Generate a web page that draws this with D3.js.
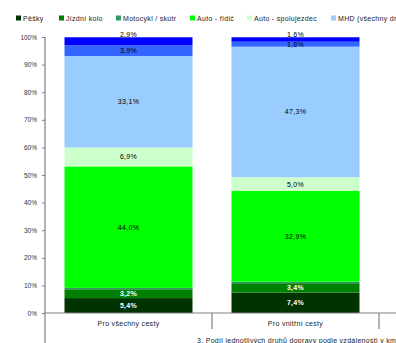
<!DOCTYPE html>
<html>
<head>
<meta charset="utf-8">
<script src="https://cdn.jsdelivr.net/npm/d3@7"></script>
<style>
  body { margin: 0; background: #fff; }
  svg { display: block; font-family: "Liberation Sans", Arial, sans-serif; }
</style>
</head>
<body>
<script>
// Categories (bars) and modes (stack segments, bottom to top)
const categories = ["Pro všechny cesty", "Pro vnitřní cesty"];
const modes = ["Pěšky", "Jízdní kolo", "Motocykl / skútr", "Auto - řidič",
               "Auto - spolujezdec", "MHD (všechny druhy)", "Vlak", "Jiné"];
const legendModes = ["Pěšky", "Jízdní kolo", "Motocykl / skútr", "Auto - řidič",
                     "Auto - spolujezdec", "MHD (všechny dr"];
const allTrips = [5.4, 3.2, 0.5, 44.0, 6.9, 33.1, 3.9, 2.9];
const innerTrips = [7.4, 3.4, 0.5, 32.9, 5.0, 47.3, 1.8, 1.6];
const yTicks = [0, 10, 20, 30, 40, 50, 60, 70, 80, 90, 100];
const colors = ["#003300", "#008000", "#339966", "#00ff00",
                "#ccffcc", "#99ccff", "#3366ff", "#0000ff"];
const footnote = "3. Podíl jednotlivých druhů dopravy podle vzdálenosti v km";

const W = 396, H = 343;
const svg = d3.select("body").append("svg").attr("width", W).attr("height", H);

// Scales: third (cut-off) category keeps band width
const x = d3.scaleBand().domain([...categories, "_"]).range([45, 546]).paddingInner(0).paddingOuter(0);
const y = d3.scaleLinear().domain([0, 100]).range([313, 37]);
const color = d3.scaleOrdinal().domain(modes).range(colors);

const series = [allTrips, innerTrips];
const barW = 128;

// Stacked bars
series.forEach(function(vals, ci) {
  let cum = 0;
  const cx = x(categories[ci]) + x.bandwidth() / 2;
  const g = svg.append("g");
  vals.forEach(function(v, i) {
    const y0 = y(cum), y1 = y(cum + v);
    g.append("rect")
      .attr("x", cx - barW / 2).attr("width", barW)
      .attr("y", y1).attr("height", y0 - y1)
      .attr("fill", color(modes[i]));
    let ly = (y0 + y1) / 2;
    if (v < 1) ly -= 7;
    if (i === vals.length - 1) ly = y1 - 3;
    g.append("text")
      .attr("x", cx).attr("y", ly).attr("dy", "0.35em")
      .attr("text-anchor", "middle")
      .attr("font-size", "7px")
      .attr("letter-spacing", "0.3px")
      .attr("fill", i < 2 ? "#ffffff" : "#000000")
      .attr("font-weight", i < 2 ? "bold" : "normal")
      .text(d3.format(".1f")(v).replace(".", ",") + "%");
    cum += v;
  });
});

// Y axis
const yAxis = svg.append("g").attr("transform", "translate(45,0)")
  .call(d3.axisLeft(y).tickValues(yTicks).tickSize(3).tickFormat(d => d + "%"));
yAxis.select(".domain").remove();
yAxis.selectAll("line").attr("stroke", "#808080");
yAxis.selectAll("text").attr("font-size", "6.5px").attr("fill", "#333").attr("x", -8)
  .attr("font-family", "Liberation Sans, Arial, sans-serif");
svg.append("line").attr("x1", 45).attr("x2", 45).attr("y1", 37).attr("y2", H)
  .attr("stroke", "#808080").attr("stroke-width", 1.2);

// X axis
svg.append("line").attr("x1", 44).attr("x2", W).attr("y1", y(0)).attr("y2", y(0))
  .attr("stroke", "#808080").attr("stroke-width", 1.2);
[categories[1], "_"].forEach(function(c) {
  svg.append("line").attr("x1", x(c)).attr("x2", x(c)).attr("y1", y(0)).attr("y2", 329)
    .attr("stroke", "#808080").attr("stroke-width", 1.2);
});
categories.forEach(function(c) {
  svg.append("text")
    .attr("x", x(c) + x.bandwidth() / 2).attr("y", 326)
    .attr("text-anchor", "middle").attr("font-size", "7px")
    .attr("letter-spacing", "0.3px").attr("fill", "#222")
    .text(c);
});

// Legend
const legendX = [16, 59, 116, 190, 247, 331];
legendModes.forEach(function(m, i) {
  svg.append("rect").attr("x", legendX[i]).attr("y", 15.5).attr("width", 5).attr("height", 5)
    .attr("fill", colors[i]);
  svg.append("text").attr("x", legendX[i] + 7).attr("y", 20.5)
    .attr("font-size", "7px").attr("letter-spacing", "0.3px").attr("fill", "#222")
    .text(m);
});

// Footnote (cut off at the right edge)
svg.append("text").attr("x", 197).attr("y", 343)
  .attr("font-size", "7px").attr("letter-spacing", "0.3px").attr("fill", "#222")
  .text(footnote);
</script>
</body>
</html>
